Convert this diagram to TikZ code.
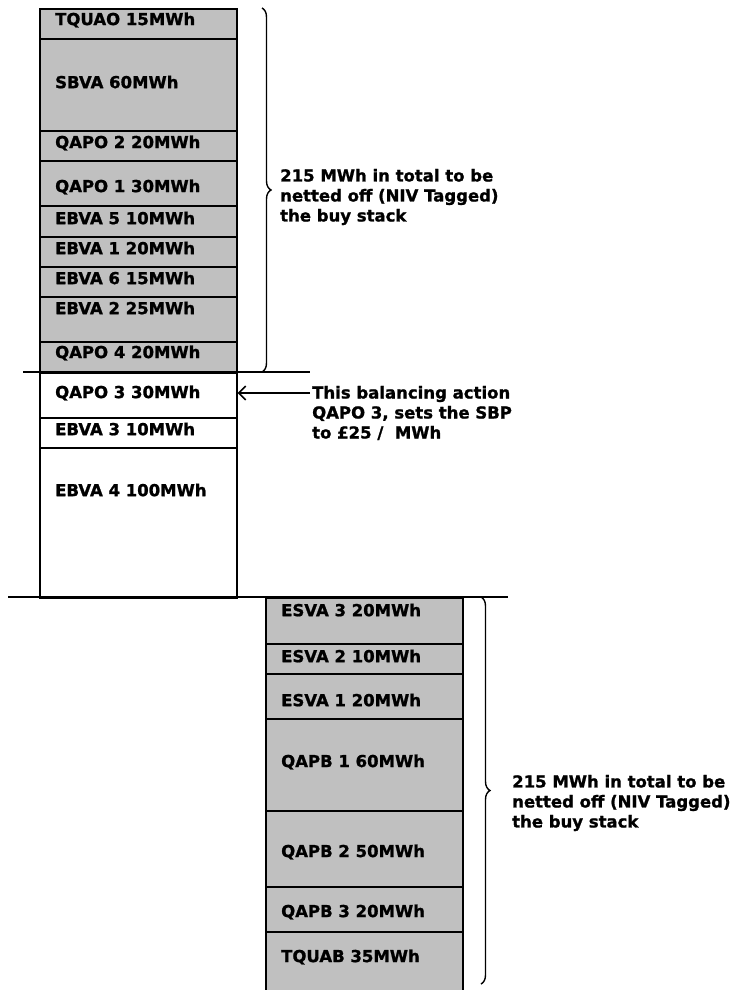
\documentclass[tikz,border=0pt]{standalone}
\usepackage{fontspec}
\setmainfont{DejaVu Sans}[BoldFeatures={FakeBold=1.2}]
\usetikzlibrary{positioning, arrows.meta, decorations.pathreplacing}

\definecolor{niv}{HTML}{C0C0C0}

\begin{document}
\begin{tikzpicture}[
    x=1pt, y=-1pt,
    >={Straight Barb[length=7pt, width=14pt]},
    font=\fontsize{16.5}{20}\selectfont\bfseries,
    stackbox/.style={
        draw, line width=1.6pt, inner sep=0pt,
        minimum width=197pt, anchor=north west,
    },
    tagged/.style={stackbox, fill=niv},
    untagged/.style={stackbox, fill=white},
    lbl/.style={anchor=west, inner sep=0pt},
    note/.style={anchor=west, align=left, inner sep=0pt},
    rule/.style={line width=1.6pt},
    tagbrace/.style={decorate, decoration={brace, amplitude=9pt}, line width=1.4pt},
]

\clip (0,0) rectangle (733,990);

\def\colA{39}
\def\colB{265}

% offer stack (top)
\foreach \name/\top/\bot/\ly/\txt in {
    tquao/8/38/20/TQUAO 15MWh,
    sbva/38/130/82/SBVA 60MWh,
    qapo2/130/160/143/QAPO 2 20MWh,
    qapo1/160/205/187/QAPO 1 30MWh,
    ebva5/205/236/218/EBVA 5 10MWh,
    ebva1/236/266/248/EBVA 1 20MWh,
    ebva6/266/296/278/EBVA 6 15MWh,
    ebva2/296/341/308/EBVA 2 25MWh,
    qapo4/341/372/353/QAPO 4 20MWh}
{
    \node[tagged, minimum height={\bot pt-\top pt}] (\name) at (\colA,\top) {};
    \node[lbl] (\name-t) at (\colA+16,\ly) {\txt};
}

\foreach \name/\top/\bot/\ly/\txt in {
    qapo3/372/417/393/QAPO 3 30MWh,
    ebva3/417/447/429/EBVA 3 10MWh,
    ebva4/447/597/490/EBVA 4 100MWh}
{
    \node[untagged, minimum height={\bot pt-\top pt}] (\name) at (\colA,\top) {};
    \node[lbl] (\name-t) at (\colA+16,\ly) {\txt};
}

% bid stack (bottom)
\foreach \name/\top/\bot/\ly/\txt in {
    esva3/597/643/610/ESVA 3 20MWh,
    esva2/643/673/656/ESVA 2 10MWh,
    esva1/673/718/700/ESVA 1 20MWh,
    qapb1/718/810/762/QAPB 1 60MWh,
    qapb2/810/886/852/QAPB 2 50MWh,
    qapb3/886/931/912/QAPB 3 20MWh,
    tquab/931/1000/957/TQUAB 35MWh}
{
    \node[tagged, minimum height={\bot pt-\top pt}] (\name) at (\colB,\top) {};
    \node[lbl] (\name-t) at (\colB+16,\ly) {\txt};
}

% cut-off lines
\coordinate (cutA1) at (23,372);
\coordinate (cutA2) at (310,372);
\coordinate (cutB1) at (8,597);
\coordinate (cutB2) at (508,597);
\draw[rule] (cutA1) -- (cutA2);
\draw[rule] (cutB1) -- (cutB2);

% braces
\coordinate (brA1) at (262,8);
\coordinate (brA2) at (262,372);
\draw[tagbrace] (brA1) -- (brA2);
\node[note] (tagA) at (280,197) {215 MWh in total to be\\netted off (NIV Tagged)\\the buy stack};

\coordinate (brB1) at (481,597);
\coordinate (brB2) at (481,984);
\draw[tagbrace] (brB1) -- (brB2);
\node[note] (tagB) at (512,803) {215 MWh in total to be\\netted off (NIV Tagged)\\the buy stack};

% price setting action
\node[note] (sbp) at (312,413) {This balancing action\\QAPO 3, sets the SBP\\to £25 /\ \ MWh};
\coordinate (sbpstart) at (310,393);
\draw[rule, ->] (sbpstart) -- (qapo3.east |- sbpstart);

\end{tikzpicture}
\end{document}
